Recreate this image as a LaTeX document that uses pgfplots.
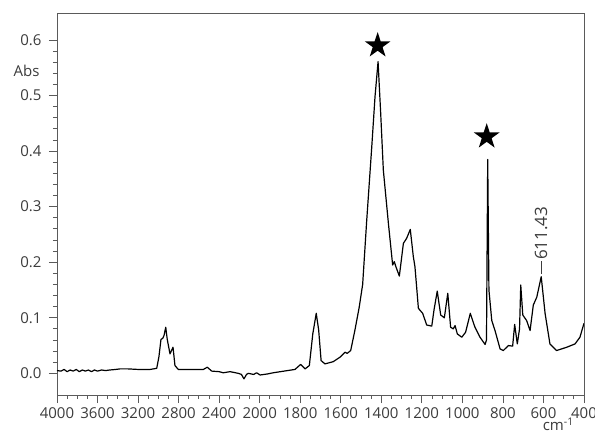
\documentclass[border=0pt]{standalone}
\usepackage{fontspec}
\setmainfont{Open Sans}
\usepackage{pgfplots}
\pgfplotsset{compat=1.18}
\usepackage{pgfplotstable}
\usetikzlibrary{shapes.geometric}
\definecolor{axisgray}{HTML}{5A5A5A}
\definecolor{labelgray}{HTML}{3C3C3C}

% FTIR spectrum, wavenumber (cm^-1) vs absorbance
\pgfplotstableread{
wn y
4000 0.005
3960 0.004
3930 0.007
3900 0.003
3870 0.006
3840 0.004
3810 0.007
3780 0.003
3750 0.006
3720 0.004
3690 0.006
3660 0.003
3630 0.006
3600 0.004
3560 0.006
3520 0.005
3480 0.006
3420 0.007
3378 0.008
3300 0.008
3200 0.007
3082 0.007
3016 0.009
2994 0.030
2974 0.061
2957 0.063
2944 0.068
2927 0.083
2912 0.061
2885 0.035
2855 0.047
2836 0.014
2803 0.007
2700 0.007
2556 0.007
2517 0.011
2473 0.004
2400 0.003
2359 0.001
2292 0.003
2211 0.000
2180 -0.002
2155 -0.010
2130 -0.002
2112 0.000
2060 -0.002
2030 0.001
1998 -0.003
1960 -0.001
1933 0.001
1880 0.004
1826 0.007
1798 0.016
1776 0.008
1755 0.014
1738 0.071
1721 0.108
1709 0.078
1697 0.023
1678 0.017
1637 0.021
1604 0.029
1579 0.038
1568 0.036
1551 0.041
1530 0.078
1509 0.119
1492 0.160
1472 0.275
1447 0.408
1431 0.498
1416 0.561
1403 0.468
1390 0.366
1365 0.270
1344 0.195
1336 0.201
1327 0.191
1311 0.175
1291 0.234
1275 0.243
1257 0.259
1242 0.210
1234 0.192
1217 0.117
1196 0.108
1176 0.087
1151 0.085
1140 0.114
1124 0.148
1107 0.105
1089 0.100
1072 0.144
1058 0.083
1045 0.080
1036 0.086
1025 0.071
1003 0.065
984 0.074
961 0.108
938 0.083
913 0.065
888 0.052
881 0.060
875 0.385
869 0.150
855 0.095
839 0.077
814 0.044
798 0.041
773 0.050
752 0.049
742 0.088
729 0.053
718 0.080
712 0.159
702 0.105
683 0.095
666 0.077
650 0.123
633 0.137
611 0.174
592 0.108
568 0.053
535 0.041
485 0.047
444 0.053
420 0.065
400 0.090
}\spectrum

\begin{document}
\begin{tikzpicture}[x=1pt,y=1pt]
\useasboundingbox (-57,-39) rectangle (538,395);
% above 2000 cm^-1 the scale is compressed by 2 (u = 2000 + (wn-2000)/2)
\begin{axis}[at={(0,0)}, anchor=south west, scale only axis,
  width=527pt, height=382pt, clip mode=individual,
  x dir=reverse, xmin=400, xmax=3000, ymin=-0.039, ymax=0.6486,
  xtick={400,600,800,1000,1200,1400,1600,1800,2000,2200,2400,2600,2800,3000},
  xticklabels={400,600,800,1000,1200,1400,1600,1800,2000,2400,2800,3200,3600,4000},
  minor x tick num=3,
  ytick={0,0.1,0.2,0.3,0.4,0.5,0.6}, minor y tick num=4,
  tick pos=left, tick align=outside,
  major tick length=8pt, minor tick length=4pt,
  axis line style={axisgray, line width=0.8pt},
  every tick/.style={axisgray, line width=0.8pt},
  /pgf/number format/assume math mode=true,
  tick label style={font=\fontsize{15}{15}\selectfont, text=labelgray},
  yticklabel style={xshift=-4pt, /pgf/number format/fixed, /pgf/number format/fixed zerofill,
    /pgf/number format/precision=1},
  xticklabel style={yshift=-1pt},
]
\addplot[black, line width=1.2pt, line join=round]
  table[x expr={\thisrow{wn}>2000 ? 2000+(\thisrow{wn}-2000)/2 : \thisrow{wn}}, y=y] {\spectrum};

\node[anchor=east, xshift=-14pt, font=\fontsize{15}{15}\selectfont, text=labelgray]
  at (axis cs:3000,0.544) {Abs};
\node[anchor=base west, yshift=-35.5pt, inner sep=0pt, font=\fontsize{15}{15}\selectfont, text=labelgray]
  at (axis cs:604,-0.039) {cm\textsuperscript{-1}};

\node[star, star points=5, star point ratio=2.618, fill=black, inner sep=0pt,
  minimum size=27pt] at (axis cs:1418,0.590) {};
\node[star, star points=5, star point ratio=2.618, fill=black, inner sep=0pt,
  minimum size=27pt] at (axis cs:880,0.426) {};

\draw[labelgray, line width=0.7pt] ([yshift=3pt]axis cs:611.43,0.174) -- ([yshift=16pt]axis cs:611.43,0.174);
\node[rotate=90, anchor=west, inner sep=0pt, xshift=16.5pt, font=\fontsize{17}{17}\selectfont,
  text=labelgray] at (axis cs:611.43,0.174) {611.43};
\end{axis}
\end{tikzpicture}
\end{document}
